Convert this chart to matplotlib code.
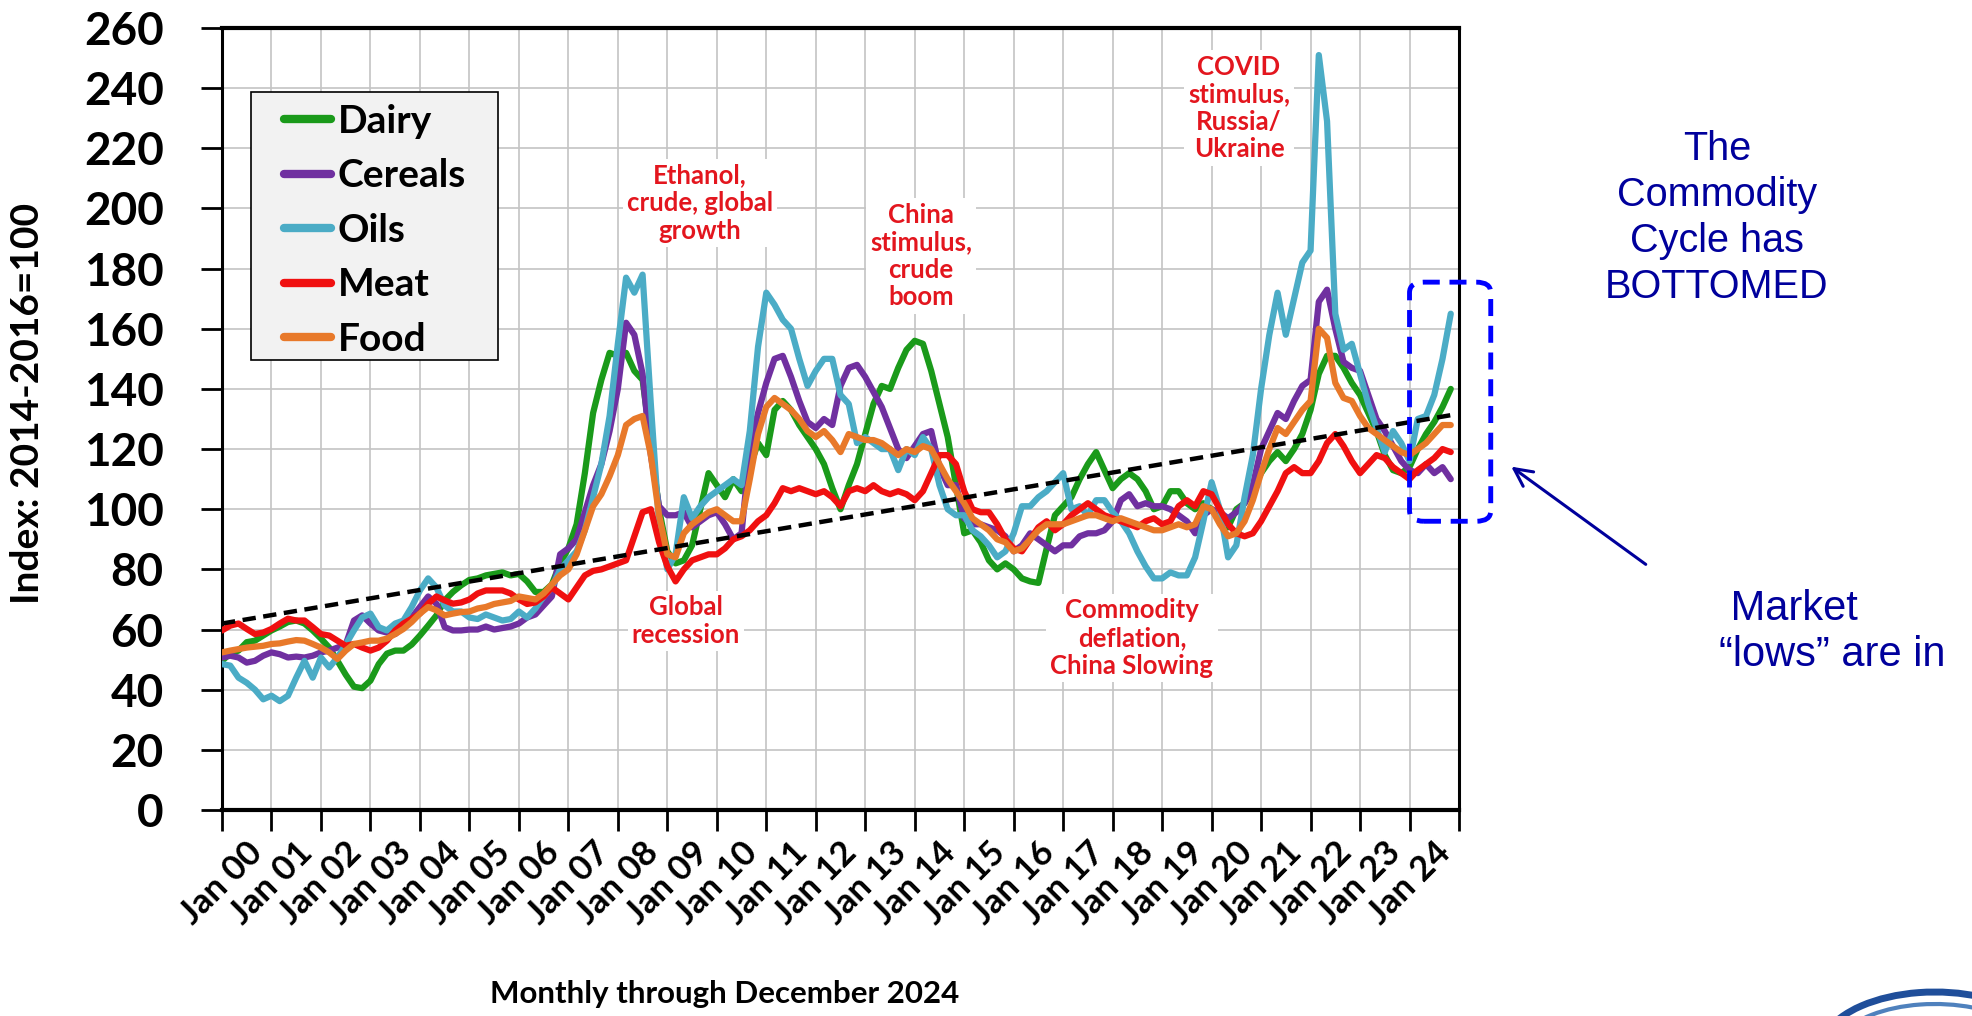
import numpy as np
import matplotlib.pyplot as plt
from matplotlib.patches import FancyBboxPatch, Rectangle, FancyArrowPatch, Arc

plt.rcParams['font.family'] = ['Lato', 'DejaVu Sans']

# FAO price indices (2014-2016=100), one reading every second month from Jan 2000
months = np.arange(0, 300, 2)

dairy = [
    49.6, 52, 53, 55.8, 56.3, 58,
    59.7, 61, 62.5, 63, 62, 59.7,
    57, 54, 49.6, 45, 41, 40.5,
    43, 48.5, 52, 53, 53, 55,
    58, 61.3, 64.7, 69.7, 72.5, 74.7,
    76.5, 77, 78, 78.5, 79, 78,
    78.5, 76, 72.5, 72.5, 75, 82,
    87, 95, 112, 132, 143, 152,
    151, 152, 146, 143, 122, 100,
    86, 82, 83, 88, 100, 112,
    108, 104, 110, 106, 114, 122,
    118, 133, 136, 133, 128, 124,
    120, 115, 107, 100, 108, 115,
    125, 135, 141, 140, 147, 153,
    156, 155, 146, 135, 124, 108,
    92, 93, 89, 83, 80, 82,
    80, 77, 76, 75.5, 87, 98,
    101, 104, 110, 115, 119, 113,
    107, 110, 112, 110, 106, 100,
    101, 106, 106, 102, 100, 102,
    100, 97, 94, 100, 102, 107,
    112, 116, 119, 116, 120, 125,
    133, 145, 151, 151, 147, 142,
    138, 132, 126, 118, 113, 112,
    114, 120, 125, 129, 134, 140,
]

cereals = [
    50.7, 51.3, 50.7, 49, 49.6, 51.3,
    52.4, 51.8, 50.7, 51, 50.7, 51.3,
    52.4, 53, 54, 55, 63, 64.7,
    62, 59.7, 59, 58.5, 60.8, 64,
    67.5, 71, 68.6, 60.8, 59.7, 59.7,
    60, 60, 61, 60, 60.5, 61,
    62, 64, 65, 68, 71, 85,
    87, 90, 99, 108, 115, 126,
    140, 162, 158, 145, 118, 101,
    98, 98, 99, 94, 96, 98,
    99, 95, 90, 92, 120, 132,
    142, 150, 151, 144, 136, 129,
    127, 130, 128, 141, 147, 148,
    144, 139, 134, 127, 120, 117,
    121, 125, 126, 114, 108, 108,
    97, 95, 95, 94, 93, 91,
    86, 88, 92, 90, 88, 86,
    88, 88, 91, 92, 92, 93,
    96, 103, 105, 101, 102, 101,
    101, 100, 98, 96, 92, 98,
    100, 99, 97, 99, 102, 108,
    120, 126, 132, 130, 136, 141,
    143, 169, 173, 160, 149, 147,
    146, 138, 130, 126, 121, 116,
    113, 112, 115, 112, 114, 110,
]

oils = [
    48.5, 48, 44, 42.3, 40, 36.8,
    38, 36.2, 38, 44, 49.6, 44,
    50.7, 47.4, 50.7, 55, 59.7, 64,
    65.3, 60.8, 59.7, 62, 63, 67.5,
    73, 77, 74, 68, 66, 66,
    64, 63.5, 65, 64, 63, 63.5,
    66, 64, 67, 71, 74, 80,
    83, 86, 93, 104, 115, 131,
    155, 177, 172, 178, 135, 95,
    80, 85, 104, 97, 101, 104,
    106, 108, 110, 108, 126, 154,
    172, 168, 163, 160, 150, 141,
    146, 150, 150, 138, 135, 122,
    124, 122, 120, 120, 113, 120,
    118, 124, 120, 108, 100, 98,
    98, 93, 91, 88, 84, 86,
    92, 101, 101, 104, 106, 109,
    112, 100, 101, 98, 103, 103,
    99, 96, 92, 86, 81, 77,
    77, 79, 78, 78, 84, 96,
    109, 100, 84, 88, 104, 118,
    140, 158, 172, 158, 170, 182,
    186, 251, 229, 165, 153, 155,
    145, 135, 127, 119, 126, 122,
    116, 130, 131, 138, 150, 165,
]

meat = [
    59.7, 61.3, 62, 60.2, 58.5, 59,
    60.2, 62, 63.6, 63, 63, 60.8,
    58.5, 58, 56.3, 54.6, 55.2, 54,
    53, 54, 56.3, 59.7, 62, 63.6,
    65.3, 68.6, 71, 69.7, 68.6, 69,
    70, 72, 73, 73, 73, 72,
    70, 68.5, 69, 71, 74, 72,
    70, 74, 78, 79.5, 80, 81,
    82, 83, 91, 99, 100, 89,
    81, 76, 80, 83, 84, 85,
    85, 87, 90, 91, 93, 96,
    98, 102, 107, 106, 107, 106,
    105, 106, 104, 101, 106, 107,
    106, 108, 106, 105, 106, 105,
    103, 106, 112, 118, 118, 115,
    106, 100, 99, 99, 95, 90,
    87, 86, 90, 94, 96, 93,
    95, 98, 100, 102, 100, 98,
    97, 96, 95, 94, 96, 97,
    95, 96, 101, 103, 101, 106,
    105, 100, 95, 92, 91, 92,
    96, 101, 106, 112, 114, 112,
    112, 116, 122, 125, 121, 116,
    112, 115, 118, 117, 114, 112,
    110, 113, 115, 117, 120, 119,
]

food = [
    52.4, 53, 53.5, 54, 54.3, 54.6,
    55.2, 55.4, 56, 56.5, 56.3, 55.2,
    54, 52.4, 50.2, 53, 55.2, 55.7,
    56.3, 56.3, 57, 58.5, 60.2, 62.5,
    65.3, 67.5, 66.4, 64.7, 65.3, 65.8,
    66, 67, 67.5, 68.5, 69, 69.5,
    71, 70.5, 70, 72, 75, 78,
    80, 85, 93, 101, 105, 111,
    118, 128, 130, 131, 118, 98,
    85, 84, 92, 95, 97, 99,
    100, 98, 96, 96, 110, 125,
    134, 137, 135, 133, 130, 126,
    124, 126, 123, 119, 125, 124,
    123, 123, 122, 120, 118, 120,
    119, 121, 120, 115, 110, 106,
    102, 97, 95, 93, 90, 89,
    86, 87, 90, 93, 95, 95,
    95, 96, 97, 98, 98, 97,
    96, 97, 96, 95, 94, 93,
    93, 94, 95, 94, 95, 101,
    100, 95, 91, 92, 96, 103,
    112, 120, 127, 125, 129, 133,
    136, 160, 157, 142, 137, 136,
    131, 127, 125, 123, 121, 119,
    118, 120, 122, 125, 128, 128,
]

# dashed long-run trend (start and end of the line)
trend_months = [0, 299]
trend_values = [62, 131.5]

series_names = ['Dairy', 'Cereals', 'Oils', 'Meat', 'Food']
series_colors = ['#1A9A1A', '#7030A0', '#4BACC6', '#F01010', '#E8792A']
year_labels = ["Jan %02d" % y for y in range(25)]

W, H = 1972, 1016


def fx(x):
    return x / W


def fy(y):
    return 1 - y / H


fig = plt.figure(figsize=(W / 100, H / 100), dpi=100)
ax = fig.add_axes([fx(222), fy(810), (1459 - 222) / W, (810 - 28) / H])

for vals, color, name in zip([dairy, cereals, oils, meat, food], series_colors, series_names):
    ax.plot(months, vals, color=color, lw=4.5, label=name,
            solid_joinstyle='round', solid_capstyle='round', zorder=3)

ax.plot(trend_months, trend_values, color='black', lw=3.2,
        linestyle=(0, (3, 1.7)), zorder=4)

ax.set_xlim(0, 300)
ax.set_ylim(0, 260)
ax.set_yticks(range(0, 261, 20))
ax.set_yticklabels([str(v) for v in range(0, 261, 20)], fontsize=33, fontweight='bold')
ax.set_xticks(range(0, 301, 12))
ax.set_xticklabels(year_labels + [''], fontsize=25, fontweight='bold',
                   rotation=45, ha='center', va='top')
ax.tick_params(axis='y', length=15, width=2, pad=27, direction='out')
ax.tick_params(axis='x', length=15, width=2, pad=4, direction='out')
ax.grid(True, color='#C4C4C4', lw=1.2)
ax.set_axisbelow(True)
for side, lw in [('left', 2.2), ('right', 2.2), ('top', 3), ('bottom', 3)]:
    ax.spines[side].set_linewidth(lw)
    ax.spines[side].set_color('black')

# legend frame and entries
ax.add_patch(Rectangle((fx(251), fy(360)), 247 / W, 268 / H, transform=fig.transFigure,
                       facecolor='#F2F2F2', edgecolor='black', lw=1.2, zorder=5))
leg = ax.legend(loc='upper left', bbox_to_anchor=((284 - 222) / 1237, (810 - 104) / 782),
                frameon=False, borderpad=0, borderaxespad=0, handlelength=1.2,
                handletextpad=0.18, labelspacing=0.5,
                prop={'family': 'Lato', 'weight': 'bold', 'size': 28})
leg.set_zorder(6)
for h in leg.get_lines():
    h.set_linewidth(6)

red = '#E3161E'
notes = [
    ("Ethanol,\ncrude, global\ngrowth", 700, 203),
    ("China\nstimulus,\ncrude\nboom", 921, 256),
    ("COVID\nstimulus,\nRussia/\nUkraine", 1239, 108),
    ("Global\nrecession", 686, 621),
    ("Commodity\ndeflation,\nChina Slowing", 1132, 638),
]
for text, x, y in notes:
    fig.text(fx(x), fy(y), text, ha='center', va='center', ma='center', color=red,
             fontsize=18.5, fontweight='bold', linespacing=1.18,
             bbox=dict(facecolor='white', edgecolor='none', pad=3))

fig.text(fx(28), fy(403), "Index: 2014-2016=100", rotation=90, ha='center', va='center',
         fontsize=28, fontweight='bold')
fig.text(fx(725), fy(994), "Monthly through December 2024", ha='center', va='center',
         fontsize=22.5, fontweight='bold')

navy = '#00009C'
fig.text(fx(1717), fy(218), "The\nCommodity\nCycle has\nBOTTOMED", ha='center', va='center',
         ma='center', color=navy, fontsize=28.5, family='Liberation Sans', linespacing=1.27)
fig.text(fx(1719), fy(632), " Market\n\u201clows\u201d are in", ha='left', va='center',
         ma='left', color=navy, fontsize=30, family='Liberation Sans', linespacing=1.22)

arrow = FancyArrowPatch((fx(1648), fy(566)), (fx(1509), fy(465)), transform=fig.transFigure,
                        arrowstyle='->', mutation_scale=32, color=navy, lw=2.2)
fig.patches.append(arrow)

# dashed highlight around the latest readings
box = FancyBboxPatch((288, 96), 19.7, 79.5, boxstyle='round,pad=0,rounding_size=3.5',
                     transform=ax.transData, clip_on=False, fill=False,
                     edgecolor='#0000FF', lw=3.5, linestyle=(0, (3.5, 2)), zorder=7)
ax.add_patch(box)

# corner of the publisher logo, cut by the slide edge
for w, h, lw, col in [(230, 120, 5, '#1F4E9A'), (200, 96, 3, '#4F81BD')]:
    fig.patches.append(Arc((1935, H - 1052), w, h, theta1=20, theta2=170,
                           transform=None, color=col, lw=lw))

fig.savefig('out.png', dpi=100)
